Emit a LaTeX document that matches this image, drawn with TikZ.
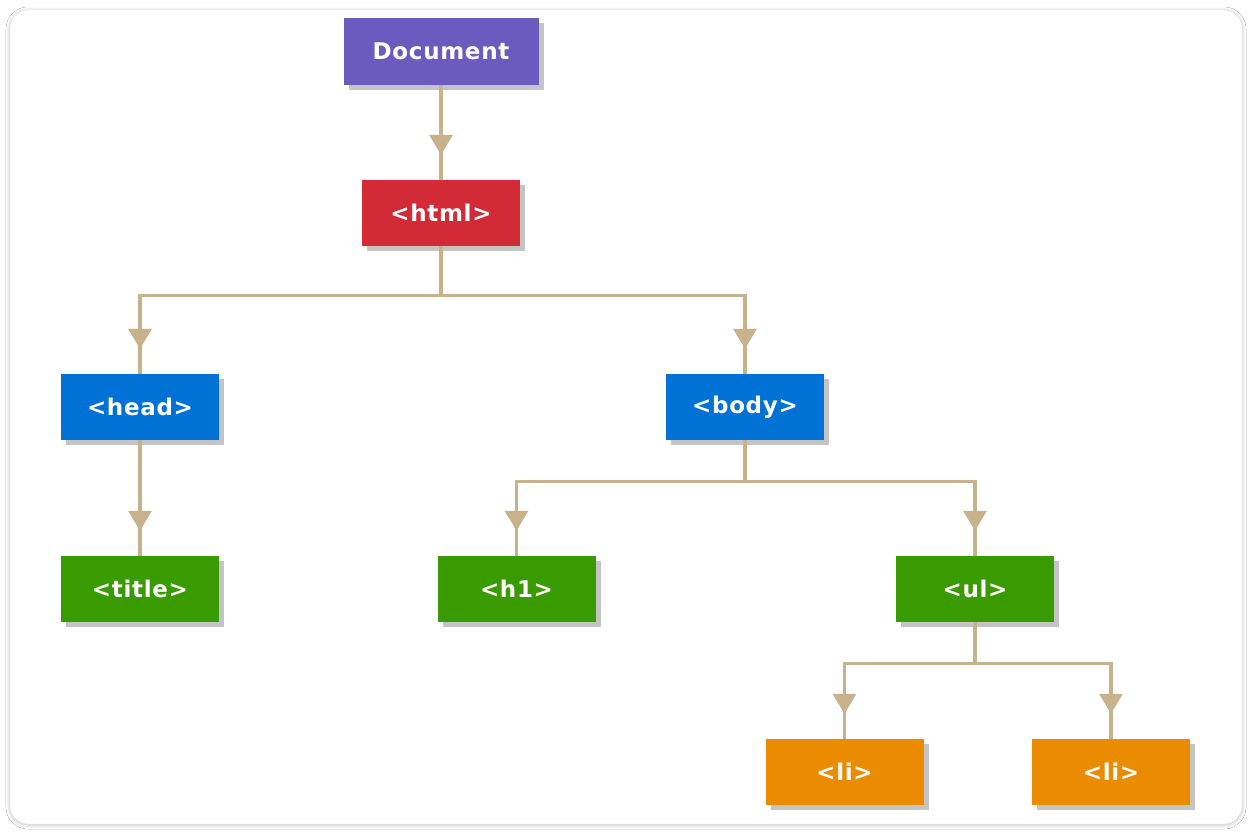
\documentclass[tikz,border=0pt]{standalone}
\usepackage{fontspec}
\setmainfont{DejaVu Sans}
\usetikzlibrary{shadows,shadows.blur,decorations.markings,arrows.meta}
\definecolor{cpurple}{HTML}{6C5BBE}
\definecolor{cred}{HTML}{D32A38}
\definecolor{cblue}{HTML}{0072D6}
\definecolor{cgreen}{HTML}{3A9B00}
\definecolor{corange}{HTML}{EB8B00}
\definecolor{cline}{HTML}{C8B28B}
\definecolor{cshadow}{HTML}{C4C4C4}
\begin{document}
\begin{tikzpicture}[x=1pt,y=-1pt,
  box/.style={minimum width=158pt, minimum height=66pt, inner sep=0pt, text=white,
    font=\fontsize{23}{27}\selectfont\bfseries\addfontfeature{LetterSpace=3},
    drop shadow={shadow xshift=5pt, shadow yshift=-5pt, fill=cshadow, opacity=1}},
  link/.style={draw=cline, color=cline, line width=3.3pt, postaction={decorate},
    decoration={markings, mark=at position -25pt with {\arrow{Triangle[width=23pt,length=20pt]}}}}]
\useasboundingbox (0,0) rectangle (1252,834);
\fill[white] (0,0) rectangle (1252,834);
\draw[draw=black!12, fill=white, rounded corners=18pt,
  blur shadow={shadow xshift=0pt, shadow yshift=-1pt, shadow blur radius=4pt, shadow opacity=25}]
  (10,10) rectangle (1242,824);

\node[box, fill=cpurple, minimum width=195pt, minimum height=67pt] (doc) at (441,51.5) {Document};
\node[box, fill=cred] (html) at (441,213) {<html>};
\node[box, fill=cblue] (head) at (140,407) {<head>};
\node[box, fill=cblue] (body) at (745,407) {<body>};
\node[box, fill=cgreen] (title) at (140,589) {<title>};
\node[box, fill=cgreen] (h1) at (516.5,589) {<h1>};
\node[box, fill=cgreen] (ul) at (975,589) {<ul>};
\node[box, fill=corange] (li1) at (844.5,772) {<li>};
\node[box, fill=corange] (li2) at (1111,772) {<li>};

\draw[link] (doc.south) -- (html.north);
\draw[link] (html.south) -- ++(0,49) -| (head.north);
\draw[link] (html.south) -- ++(0,49) -| (body.north);
\draw[link] (head.south) -- (title.north);
\draw[link] (body.south) -- ++(0,41) -| (h1.north);
\draw[link] (body.south) -- ++(0,41) -| (ul.north);
\draw[link] (ul.south) -- ++(0,41) -| (li1.north);
\draw[link] (ul.south) -- ++(0,41) -| (li2.north);
\end{tikzpicture}
\end{document}
